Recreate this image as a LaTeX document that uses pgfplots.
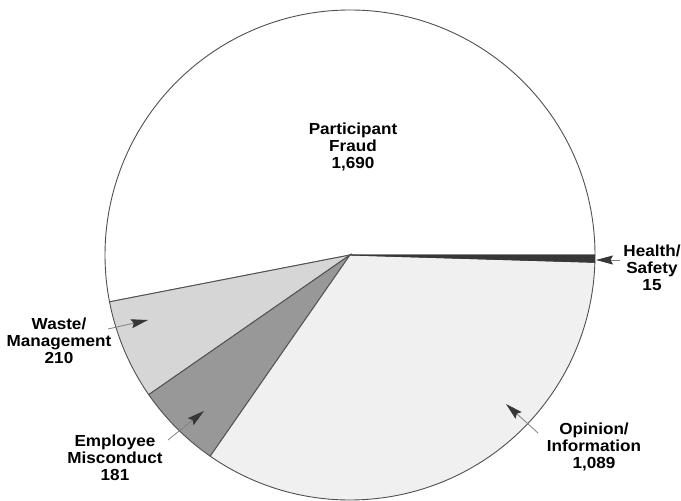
\documentclass[border=0pt]{standalone}
\usepackage{pgfplots}
\pgfplotsset{compat=1.18}
\usepackage{fontspec}
\setmainfont{Liberation Sans}[FakeStretch=1.07]
\usetikzlibrary{arrows.meta}

% Complaint counts by category
\def\vFraud{1690}
\def\vWaste{210}
\def\vEmployee{181}
\def\vOpinion{1089}
\def\vHealth{15}

\definecolor{wasteGray}{RGB}{214,214,214}
\definecolor{employeeGray}{RGB}{152,152,152}
\definecolor{opinionGray}{RGB}{240,240,240}
\definecolor{healthGray}{RGB}{55,55,55}
\definecolor{edgeGray}{RGB}{80,80,80}

\begin{document}
\begin{tikzpicture}
% cumulative angles, counter-clockwise from the positive x direction
\pgfmathsetmacro{\total}{\vFraud+\vWaste+\vEmployee+\vOpinion+\vHealth}
\pgfmathsetmacro{\aA}{0}
\pgfmathsetmacro{\aB}{\aA+360*(\vFraud/\total)}
\pgfmathsetmacro{\aC}{\aB+360*(\vWaste/\total)}
\pgfmathsetmacro{\aD}{\aC+360*(\vEmployee/\total)}
\pgfmathsetmacro{\aE}{\aD+360*(\vOpinion/\total)}
\pgfmathsetmacro{\aF}{360}
\def\R{245pt}
\begin{axis}[
  x=1pt, y=1pt, scale only axis,
  xmin=0, xmax=681, ymin=0, ymax=501,
  hide axis, clip=false,
]
\filldraw[fill=white, draw=edgeGray, line width=0.9pt]
  (axis cs:350,246) -- ++(\aA:\R) arc[start angle=\aA, end angle=\aB, radius=\R] -- cycle;
\filldraw[fill=wasteGray, draw=edgeGray, line width=0.9pt]
  (axis cs:350,246) -- ++(\aB:\R) arc[start angle=\aB, end angle=\aC, radius=\R] -- cycle;
\filldraw[fill=employeeGray, draw=edgeGray, line width=0.9pt]
  (axis cs:350,246) -- ++(\aC:\R) arc[start angle=\aC, end angle=\aD, radius=\R] -- cycle;
\filldraw[fill=opinionGray, draw=edgeGray, line width=0.9pt]
  (axis cs:350,246) -- ++(\aD:\R) arc[start angle=\aD, end angle=\aE, radius=\R] -- cycle;
\filldraw[fill=healthGray, draw=healthGray, line width=0.9pt]
  (axis cs:350,246) -- ++(\aE:\R) arc[start angle=\aE, end angle=\aF, radius=\R] -- cycle;

% pointer arrows
\tikzset{pointer/.style={draw=gray, line width=0.8pt,
  -{Stealth[length=17pt, width=9pt, inset=2.5pt, fill=healthGray, color=healthGray]}}}
\draw[pointer] (axis cs:108,172) -- (axis cs:148,181);
\draw[pointer] (axis cs:168,61) -- (axis cs:204,90);
\draw[pointer] (axis cs:538,68) -- (axis cs:506,97);
\draw[pointer] (axis cs:620,241) -- (axis cs:596,241);

% category labels
\tikzset{lbl/.style={align=center, font=\bfseries\fontsize{16}{17}\selectfont, inner sep=0pt}}
\node[lbl] at (axis cs:353,354) {Participant\\Fraud\\1,690};
\node[lbl] at (axis cs:59,160) {Waste/\\Management\\210};
\node[lbl] at (axis cs:115,43) {Employee\\Misconduct\\181};
\node[lbl] at (axis cs:594,54) {Opinion/\\Information\\1,089};
\node[lbl] at (axis cs:652,233) {Health/\\Safety\\15};
\end{axis}
\pgfresetboundingbox
\useasboundingbox (current axis.south west) rectangle (current axis.north east);
\end{tikzpicture}
\end{document}
